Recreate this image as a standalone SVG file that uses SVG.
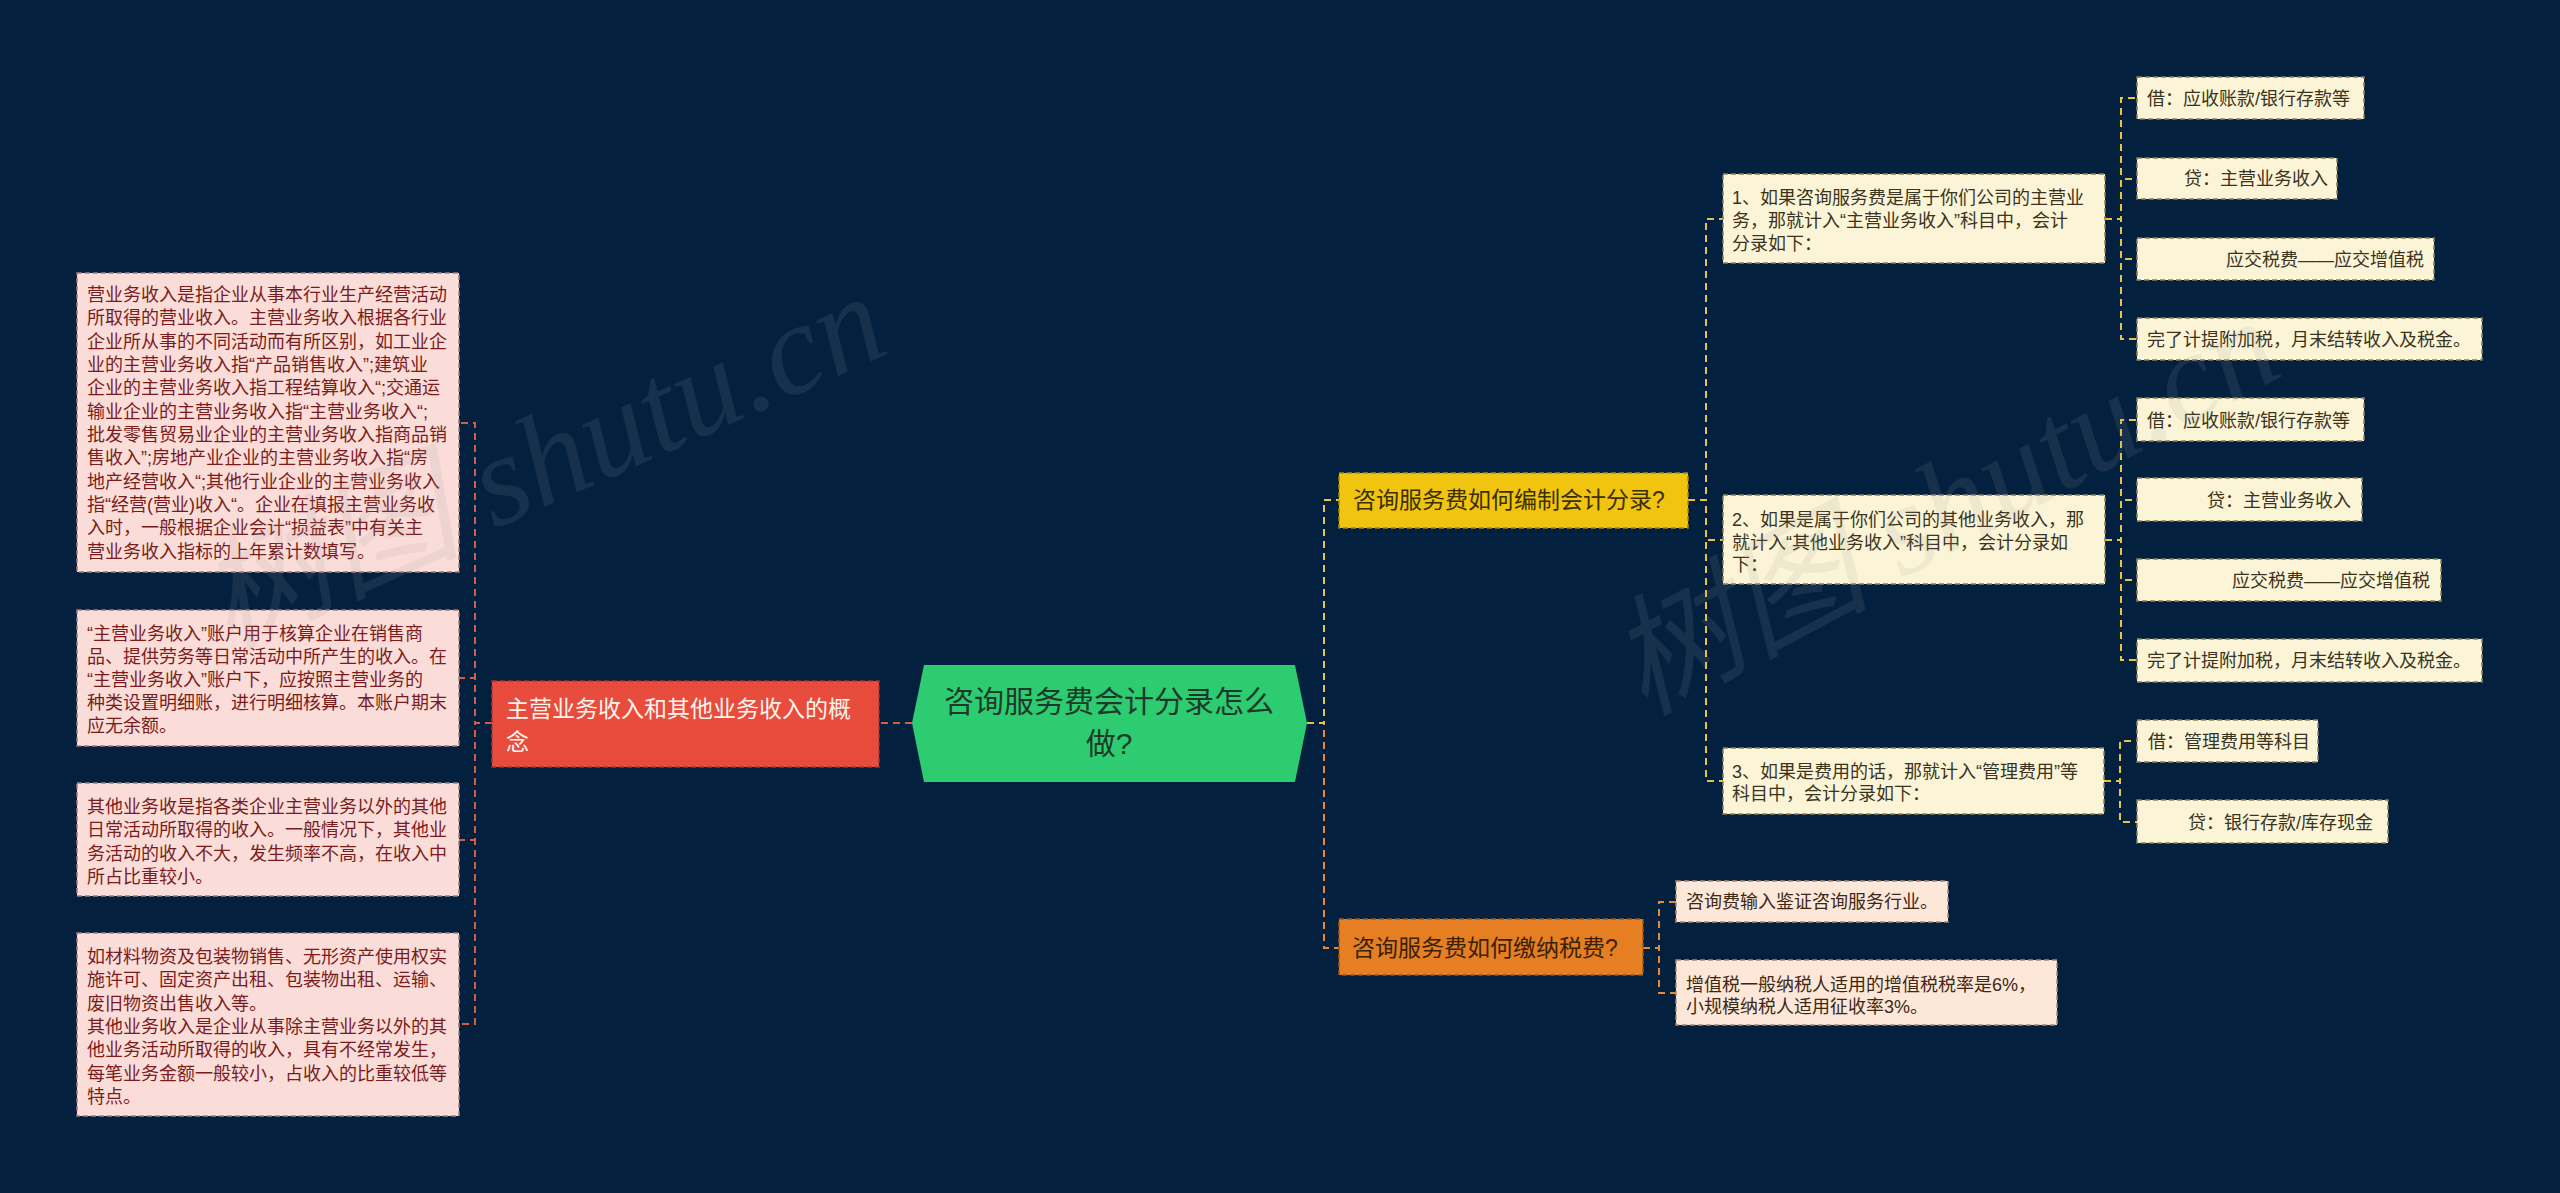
<svg xmlns="http://www.w3.org/2000/svg" width="2560" height="1193" viewBox="0 0 2560 1193">
<style>
text{font-family:"Liberation Sans","Noto Sans CJK SC",sans-serif;}
.conn{fill:none;stroke-width:2;stroke-dasharray:7 5;}
.cr{stroke:#d95c3d;}
.cy{stroke:#e9c43c;}
.co{stroke:#e8893a;}
.pink rect{fill:#fadcd8;stroke:#a77b78;stroke-width:1.5;stroke-dasharray:5 3;}
.pink text{font-size:18px;fill:#7a1c1c;}
.cream rect{fill:#fcf4d6;stroke:#8c7f55;stroke-width:1.5;stroke-dasharray:5 3;}
.cream text{font-size:18px;fill:#3a3320;}
.peach rect{fill:#fce7d9;stroke:#a88a74;stroke-width:1.5;stroke-dasharray:5 3;}
.peach text{font-size:18px;fill:#3e2814;}
.wm{font-family:"Liberation Serif","Noto Sans CJK SC",serif;font-style:italic;font-size:130px;fill:#9aa0a8;opacity:0.13;}
</style>
<rect x="0" y="0" width="2560" height="1193" fill="#03203e"/>

<g id="connectors">
<path class="conn cr" d="M912,723 H879"/>
<path class="conn cr" d="M492,723 H475 V423 H459"/>
<path class="conn cr" d="M492,723 H475 V678 H459"/>
<path class="conn cr" d="M492,723 H475 V840 H459"/>
<path class="conn cr" d="M492,723 H475 V1024 H459"/>
<path class="conn co" d="M1307,723 H1324 V948 H1339"/>
<path class="conn co" d="M1643,948 H1659 V902 H1676"/>
<path class="conn co" d="M1643,948 H1659 V993 H1676"/>
<path class="conn cy" d="M1307,723 H1324 V500 H1339"/>
<path class="conn cy" d="M1688,500 H1706 V219 H1723"/>
<path class="conn cy" d="M1688,500 H1706 V540 H1723"/>
<path class="conn cy" d="M1688,500 H1706 V781 H1723"/>
<path class="conn cy" d="M2105,219 H2121 V98 H2137"/>
<path class="conn cy" d="M2105,219 H2121 V179 H2137"/>
<path class="conn cy" d="M2105,219 H2121 V259 H2137"/>
<path class="conn cy" d="M2105,219 H2121 V339 H2137"/>
<path class="conn cy" d="M2105,540 H2121 V420 H2137"/>
<path class="conn cy" d="M2105,540 H2121 V500 H2137"/>
<path class="conn cy" d="M2105,540 H2121 V580 H2137"/>
<path class="conn cy" d="M2105,540 H2121 V660 H2137"/>
<path class="conn cy" d="M2104,781 H2120 V741 H2137"/>
<path class="conn cy" d="M2104,781 H2120 V822 H2137"/>
</g>

<g id="root">
<polygon points="924,665 1295,665 1307,723 1295,782 924,782 912,723" fill="#2ecc71"/>
<text font-size="30" fill="#1c3a2a" text-anchor="middle"><tspan x="1109" y="712">咨询服务费会计分录怎么</tspan><tspan x="1109" y="754">做?</tspan></text>
</g>

<g id="n-concept">
<rect x="492" y="681" width="387" height="86" fill="#e74c3c" stroke="#a8342a" stroke-width="1.5" stroke-dasharray="5 3"/>
<text font-size="23" fill="#fff5ee"><tspan x="506" y="717">主营业务收入和其他业务收入的概</tspan><tspan x="506" y="750">念</tspan></text>
</g>

<g id="n-c1" class="pink">
<rect x="77" y="273" width="382" height="299"/>
<text><tspan x="87" y="301">营业务收入是指企业从事本行业生产经营活动</tspan><tspan x="87" y="324.3">所取得的营业收入。主营业务收入根据各行业</tspan><tspan x="87" y="347.7">企业所从事的不同活动而有所区别，如工业企</tspan><tspan x="87" y="371">业的主营业务收入指“产品销售收入”;建筑业</tspan><tspan x="87" y="394.3">企业的主营业务收入指工程结算收入“;交通运</tspan><tspan x="87" y="417.7">输业企业的主营业务收入指“主营业务收入“;</tspan><tspan x="87" y="441">批发零售贸易业企业的主营业务收入指商品销</tspan><tspan x="87" y="464.3">售收入”;房地产业企业的主营业务收入指“房</tspan><tspan x="87" y="487.7">地产经营收入“;其他行业企业的主营业务收入</tspan><tspan x="87" y="511">指“经营(营业)收入“。企业在填报主营业务收</tspan><tspan x="87" y="534.3">入时，一般根据企业会计“损益表”中有关主</tspan><tspan x="87" y="557.7">营业务收入指标的上年累计数填写。</tspan></text>
</g>

<g id="n-c2" class="pink">
<rect x="77" y="610" width="382" height="136"/>
<text><tspan x="87" y="639.5">“主营业务收入”账户用于核算企业在销售商</tspan><tspan x="87" y="662.5">品、提供劳务等日常活动中所产生的收入。在</tspan><tspan x="87" y="685.5">“主营业务收入”账户下，应按照主营业务的</tspan><tspan x="87" y="708.5">种类设置明细账，进行明细核算。本账户期末</tspan><tspan x="87" y="732">应无余额。</tspan></text>
</g>

<g id="n-c3" class="pink">
<rect x="77" y="783" width="382" height="113"/>
<text><tspan x="87" y="813">其他业务收是指各类企业主营业务以外的其他</tspan><tspan x="87" y="836.3">日常活动所取得的收入。一般情况下，其他业</tspan><tspan x="87" y="859.7">务活动的收入不大，发生频率不高，在收入中</tspan><tspan x="87" y="883">所占比重较小。</tspan></text>
</g>

<g id="n-c4" class="pink">
<rect x="77" y="933" width="382" height="183"/>
<text><tspan x="87" y="963">如材料物资及包装物销售、无形资产使用权实</tspan><tspan x="87" y="986.3">施许可、固定资产出租、包装物出租、运输、</tspan><tspan x="87" y="1009.7">废旧物资出售收入等。</tspan><tspan x="87" y="1033">其他业务收入是企业从事除主营业务以外的其</tspan><tspan x="87" y="1056.3">他业务活动所取得的收入，具有不经常发生，</tspan><tspan x="87" y="1079.7">每笔业务金额一般较小，占收入的比重较低等</tspan><tspan x="87" y="1103">特点。</tspan></text>
</g>

<g id="n-entry">
<rect x="1339" y="473" width="349" height="55" fill="#f1c40f" stroke="#a8870a" stroke-width="1.5" stroke-dasharray="5 3"/>
<text x="1353" y="508" font-size="23" fill="#3a3000">咨询服务费如何编制会计分录?</text>
</g>

<g id="n-tax">
<rect x="1339" y="919" width="304" height="56" fill="#e67e22" stroke="#9c5518" stroke-width="1.5" stroke-dasharray="5 3"/>
<text x="1352" y="956" font-size="23" fill="#3a2208">咨询服务费如何缴纳税费?</text>
</g>

<g id="n-e1" class="cream">
<rect x="1723" y="174" width="382" height="89"/>
<text><tspan x="1732" y="204">1、如果咨询服务费是属于你们公司的主营业</tspan><tspan x="1732" y="227">务，那就计入“主营业务收入”科目中，会计</tspan><tspan x="1732" y="250">分录如下：</tspan></text>
</g>
<g id="n-e2" class="cream">
<rect x="1723" y="495" width="382" height="89"/>
<text><tspan x="1732" y="525.5">2、如果是属于你们公司的其他业务收入，那</tspan><tspan x="1732" y="548.5">就计入“其他业务收入”科目中，会计分录如</tspan><tspan x="1732" y="571">下：</tspan></text>
</g>
<g id="n-e3" class="cream">
<rect x="1723" y="748" width="381" height="66"/>
<text><tspan x="1732" y="778">3、如果是费用的话，那就计入“管理费用”等</tspan><tspan x="1732" y="800">科目中，会计分录如下：</tspan></text>
</g>

<g id="n-e1a" class="cream"><rect x="2137" y="77" width="227" height="42"/><text x="2147" y="105">借：应收账款/银行存款等</text></g>
<g id="n-e1b" class="cream"><rect x="2137" y="158" width="200" height="41"/><text x="2184" y="185">贷：主营业务收入</text></g>
<g id="n-e1c" class="cream"><rect x="2137" y="238" width="297" height="42"/><text x="2226" y="265.5">应交税费——应交增值税</text></g>
<g id="n-e1d" class="cream"><rect x="2137" y="318" width="345" height="42"/><text x="2147" y="345.5">完了计提附加税，月末结转收入及税金。</text></g>

<g id="n-e2a" class="cream"><rect x="2137" y="398" width="227" height="43"/><text x="2147" y="426.5">借：应收账款/银行存款等</text></g>
<g id="n-e2b" class="cream"><rect x="2137" y="478" width="225" height="43"/><text x="2207" y="506.5">贷：主营业务收入</text></g>
<g id="n-e2c" class="cream"><rect x="2137" y="559" width="304" height="42"/><text x="2232" y="586.5">应交税费——应交增值税</text></g>
<g id="n-e2d" class="cream"><rect x="2137" y="639" width="345" height="43"/><text x="2147" y="666.5">完了计提附加税，月末结转收入及税金。</text></g>

<g id="n-e3a" class="cream"><rect x="2137" y="720" width="181" height="42"/><text x="2148" y="747.5">借：管理费用等科目</text></g>
<g id="n-e3b" class="cream"><rect x="2137" y="800" width="251" height="43"/><text x="2188" y="828.5">贷：银行存款/库存现金</text></g>

<g id="n-t1" class="peach"><rect x="1676" y="881" width="272" height="41"/><text x="1686" y="908">咨询费输入鉴证咨询服务行业。</text></g>
<g id="n-t2" class="peach"><rect x="1676" y="960" width="381" height="65"/><text><tspan x="1686" y="991">增值税一般纳税人适用的增值税税率是6%，</tspan><tspan x="1686" y="1012.5">小规模纳税人适用征收率3%。</tspan></text></g>

<g id="watermark">
<text class="wm" text-anchor="middle" transform="translate(560,500) rotate(-24)">树图 shutu.cn</text>
<text class="wm" text-anchor="middle" transform="translate(1965,545) rotate(-28)">树图 shutu.cn</text>
</g>
</svg>
